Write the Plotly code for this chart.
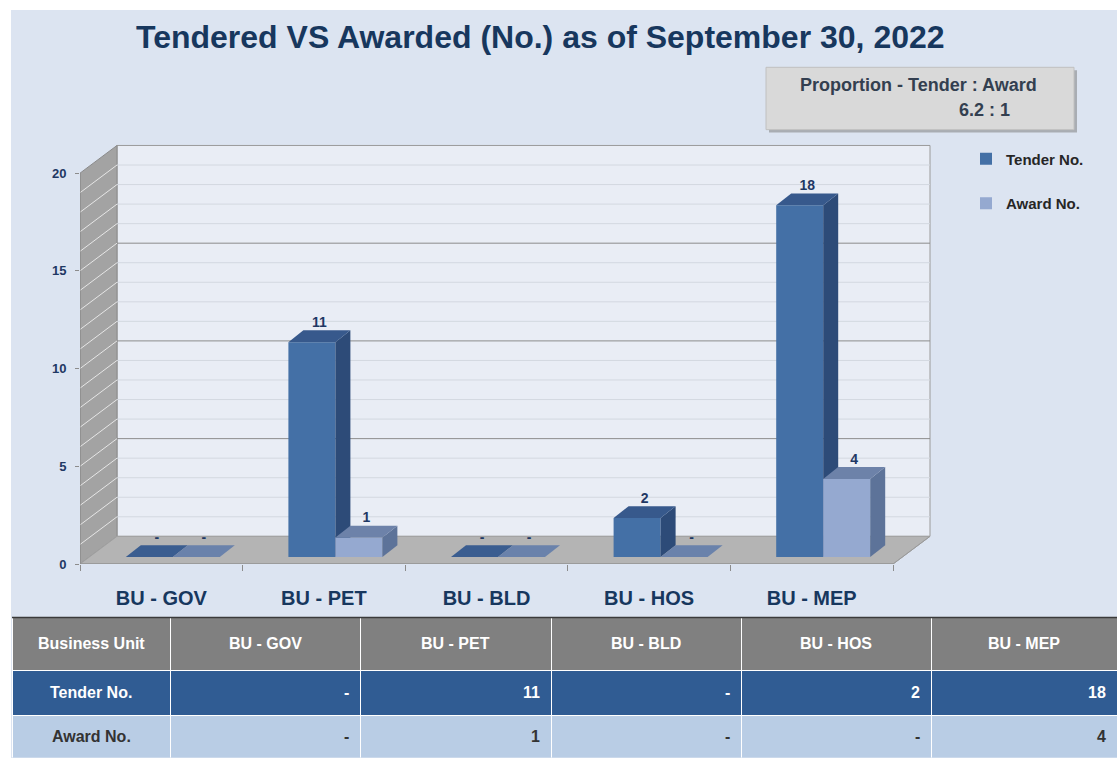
import plotly.graph_objects as go

# ---------------- data ----------------
categories = ["BU - GOV", "BU - PET", "BU - BLD", "BU - HOS", "BU - MEP"]
tender_no = [0, 11, 0, 2, 18]
award_no = [0, 1, 0, 0, 4]
series_names = ["Tender No.", "Award No."]
y_ticks = [0, 5, 10, 15, 20]
title_text = "Tendered VS Awarded (No.) as of September 30, 2022"
table_header_first = "Business Unit"

# ---------------- geometry / style ----------------
W, H = 1117, 766
X_LEFT_PX, X_RIGHT_PX = 80, 932
Y_BOT_PX, Y_TOP_PX = 570, 145
X_RANGE = [-0.5, -0.5 + (X_RIGHT_PX - X_LEFT_PX) / 162.6]
Y_RANGE = [0, (Y_BOT_PX - Y_TOP_PX) / 19.75]
DXB, DYB = 37 / 162.6, 28 / 19.75          # back wall depth offset
BAR_W = 47 / 162.6
PAIR_SHIFT = 11.5 / 162.6
BAR_BASE = 7 / 19.75
BDX, BDY = 15 / 162.6, 12 / 19.75           # bar depth

NAVY = "#17375e"
FONT = "Liberation Sans, Arial"
styles = {
    "Tender No.": dict(front="#4470a6", side="#2d4b78", top="#37598c", flat="#3a5d90"),
    "Award No.": dict(front="#95a9d0", side="#5d7399", top="#6d82a9", flat="#6a82ab"),
}

fig = go.Figure()


def poly(xs, ys, fill, line=None, width=0):
    fig.add_trace(go.Scatter(
        x=xs + [xs[0]], y=ys + [ys[0]], mode="lines", fill="toself",
        fillcolor=fill, line=dict(color=line or fill, width=width),
        hoverinfo="skip", showlegend=False))


def seg(x0, y0, x1, y1, color, width=1):
    fig.add_trace(go.Scatter(x=[x0, x1], y=[y0, y1], mode="lines",
                             line=dict(color=color, width=width),
                             hoverinfo="skip", showlegend=False))


ymax = y_ticks[-1]
x0, x1 = -0.5, len(categories) - 0.5
# back wall, side wall, grid, floor
poly([x0 + DXB, x1 + DXB, x1 + DXB, x0 + DXB],
     [DYB, DYB, ymax + DYB, ymax + DYB], "#e9edf5", "#9a9a9a", 1)
poly([x0, x0 + DXB, x0 + DXB, x0], [0, DYB, ymax + DYB, ymax], "#a3a3a3", "#8a8a8a", 1)
for v in range(1, ymax):
    major = v % 5 == 0
    seg(x0 + DXB, v + DYB, x1 + DXB, v + DYB, "#8c8c8c" if major else "#d3d8e0", 1)
    seg(x0, v, x0 + DXB, v + DYB, "#e6e6e6", 1)
poly([x0, x1, x1 + DXB, x0 + DXB], [0, 0, DYB, DYB], "#b4b4b4", "#a0a0a0", 1)

# bars: front faces through the library's bar marks (also legend entries)
for si, (name, vals) in enumerate(zip(series_names, [tender_no, award_no])):
    st = styles[name]
    xs = [i + PAIR_SHIFT + (si - 0.5) * BAR_W for i in range(len(categories))]
    fig.add_trace(go.Bar(
        x=xs, y=vals, base=BAR_BASE, width=BAR_W, name=f"<b>{name}</b>",
        marker=dict(color=st["front"], line=dict(width=0)),
        legendgroup=name, hoverinfo="skip"))
# 3-D faces, painted left to right
for i in range(len(categories)):
    for si, (name, vals) in enumerate(zip(series_names, [tender_no, award_no])):
        st = styles[name]
        v = vals[i]
        xc = i + PAIR_SHIFT + (si - 0.5) * BAR_W
        xl, xr = xc - BAR_W / 2, xc + BAR_W / 2
        h = BAR_BASE + v
        if v > 0:
            poly([xl, xr, xr, xl], [BAR_BASE, BAR_BASE, h, h], st["front"])
            poly([xr, xr, xr + BDX, xr + BDX], [BAR_BASE, h, h + BDY, BAR_BASE + BDY], st["side"])
            poly([xl, xr, xr + BDX, xl + BDX], [h, h, h + BDY, h + BDY], st["top"])
        else:
            poly([xl, xr, xr + BDX, xl + BDX], [h, h, h + BDY, h + BDY], st["flat"])

# data labels
lab_x, lab_y, lab_t = [], [], []
for si, vals in enumerate([tender_no, award_no]):
    for i, v in enumerate(vals):
        xc = i + PAIR_SHIFT + (si - 0.5) * BAR_W
        lab_x.append(xc + BDX / 2)
        lab_y.append(BAR_BASE + v + BDY)
        lab_t.append(f"<b>{v}</b>" if v else "<b>-</b>")
fig.add_trace(go.Scatter(x=lab_x, y=lab_y, text=lab_t, mode="text",
                         textposition="top center", cliponaxis=False,
                         textfont=dict(size=14, color="#1f3864", family=FONT),
                         hoverinfo="skip", showlegend=False))

# front edges
seg(x0, 0, x1, 0, "#8c8c8c", 1.2)
seg(x0, 0, x0, ymax, "#8c8c8c", 1)
seg(x1, 0, x1 + DXB, DYB, "#9a9a9a", 1)


# ---------------- table ----------------
def fmt(v):
    return "-" if v == 0 else str(v)


ncol = len(categories) + 1
col_px = [158, 190, 191, 190, 190, 186]
TBL_LEFT, TBL_TOP = 12, 624
HDR_H, ROW_H = 53, 45
fig.add_trace(go.Table(
    domain=dict(x=[TBL_LEFT / W, 1], y=[0, 1 - TBL_TOP / H]),
    columnwidth=col_px,
    header=dict(values=[""] * ncol, fill_color="#808080", height=HDR_H,
                line=dict(color="#ffffff", width=1)),
    cells=dict(values=[["", ""]] * ncol,
               fill_color=[["#305c93", "#b9cde5"]] * ncol, height=ROW_H,
               line=dict(color="#ffffff", width=1))))

header_vals = [table_header_first] + categories
rows = [[series_names[0]] + [fmt(t) for t in tender_no],
        [series_names[1]] + [fmt(a) for a in award_no]]
row_colors = ["white", "#333333"]
annotations = []
edges = [TBL_LEFT]
for w_ in col_px:
    edges.append(edges[-1] + w_)
for c in range(ncol):
    cx = (edges[c] + edges[c + 1]) / 2
    annotations.append(dict(text=f"<b>{header_vals[c]}</b>", xref="paper", yref="paper",
                            x=cx / W, y=1 - (TBL_TOP + HDR_H / 2) / H,
                            xanchor="center", yanchor="middle", showarrow=False,
                            font=dict(size=16, color="white", family=FONT)))
    for r in range(2):
        yc = TBL_TOP + HDR_H + ROW_H * r + ROW_H / 2
        if c == 0:
            xx, anc = cx, "center"
        else:
            xx, anc = min(edges[c + 1], W) - 9, "right"
        annotations.append(dict(text=f"<b>{rows[r][c]}</b>", xref="paper", yref="paper",
                                x=xx / W, y=1 - yc / H, xanchor=anc, yanchor="middle",
                                showarrow=False,
                                font=dict(size=16, color=row_colors[r], family=FONT)))

ratio = sum(tender_no) / sum(award_no)
annotations += [
    dict(text=f"<b>{title_text}</b>", xref="paper", yref="paper",
         x=540 / W, y=1 - 37 / H, xanchor="center", yanchor="middle",
         showarrow=False, font=dict(size=32, color=NAVY)),
    dict(text="<b>Proportion - Tender : Award</b>", xref="paper", yref="paper",
         x=918 / W, y=1 - 86 / H, xanchor="center", yanchor="middle",
         showarrow=False, font=dict(size=18, color="#333f50")),
    dict(text=f"<b>{ratio:.1f} : 1</b>", xref="paper", yref="paper",
         x=984 / W, y=1 - 111 / H, xanchor="center", yanchor="middle",
         showarrow=False, font=dict(size=18, color="#333f50")),
]

fig.update_layout(
    width=W, height=H, autosize=False, margin=dict(l=0, r=0, t=0, b=0),
    paper_bgcolor="white", plot_bgcolor="rgba(0,0,0,0)",
    barmode="overlay", showlegend=True,
    font=dict(family=FONT),
    xaxis=dict(domain=[X_LEFT_PX / W, X_RIGHT_PX / W], range=X_RANGE,
               showgrid=False, zeroline=False, showline=False,
               tickvals=list(range(len(categories))),
               ticktext=[f"<b>{c}</b>" for c in categories],
               ticks="", ticklabelstandoff=20,
               tickfont=dict(size=20, color=NAVY),
               minor=dict(tickvals=[i - 0.5 for i in range(len(categories) + 1)],
                          ticks="outside", ticklen=6, tickcolor="#8c8c8c")),
    yaxis=dict(domain=[1 - Y_BOT_PX / H, 1 - Y_TOP_PX / H], range=Y_RANGE,
               showgrid=False, zeroline=False, showline=False,
               tickvals=y_ticks, ticktext=[f"<b>{t}</b>" for t in y_ticks],
               ticks="outside", ticklen=4, tickcolor="#8c8c8c",
               ticklabelstandoff=6,
               tickfont=dict(size=13, color="#1f3864")),
    legend=dict(x=966 / W, y=1 - 144 / H, xanchor="left", yanchor="top",
                bgcolor="rgba(0,0,0,0)", tracegroupgap=22,
                font=dict(size=15, color="#262626"), itemwidth=30),
    shapes=[
        dict(type="rect", xref="paper", yref="paper", x0=11 / W, x1=1,
             y0=0, y1=1 - 10 / H, fillcolor="#dce4f1", line=dict(width=0),
             layer="below"),
        dict(type="rect", xref="paper", yref="paper", x0=769 / W, x1=1077 / W,
             y0=1 - 134 / H, y1=1 - 71 / H, fillcolor="#a9adb3",
             line=dict(width=0), layer="below"),
        dict(type="rect", xref="paper", yref="paper", x0=766 / W, x1=1074 / W,
             y0=1 - 131 / H, y1=1 - 68 / H, fillcolor="#d9d9d9",
             line=dict(color="#c0c0c0", width=1), layer="below"),
        dict(type="line", xref="paper", yref="paper", x0=TBL_LEFT / W, x1=1,
             y0=1 - TBL_TOP / H, y1=1 - TBL_TOP / H,
             line=dict(color="#3a3a3a", width=1.5), layer="above"),
    ],
    annotations=annotations,
)

fig.write_html("out.html", config={"displayModeBar": False, "responsive": False},
               post_script="document.body.style.margin='0';document.body.style.overflow='hidden';")
